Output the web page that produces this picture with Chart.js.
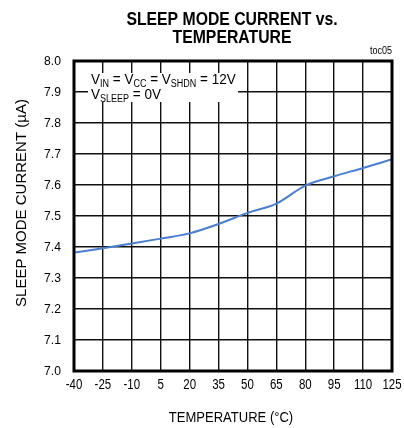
<!DOCTYPE html>
<html>
<head>
<meta charset="utf-8">
<script src="https://cdn.jsdelivr.net/npm/chart.js@4.4.1/dist/chart.umd.min.js"></script>
<style>
  html, body { margin: 0; padding: 0; background: #fff; }
  #wrap { position: absolute; left: 0; top: 0; width: 404px; height: 428px; }
</style>
</head>
<body>
<div id="wrap"><canvas id="chart" width="404" height="428"></canvas></div>
<script>
// data
const temps = [-40, -25, -10, 5, 20, 35, 50, 65, 80, 95, 110, 125];
const current = [7.382, 7.396, 7.411, 7.427, 7.444, 7.474, 7.51, 7.54, 7.598, 7.628, 7.655, 7.683];
const xTicks = [-40, -25, -10, 5, 20, 35, 50, 65, 80, 95, 110, 125];
const yTicks = [7.0, 7.1, 7.2, 7.3, 7.4, 7.5, 7.6, 7.7, 7.8, 7.9, 8.0];

const FONT = "'Liberation Sans', Arial, sans-serif";

// draws text squeezed sideways (the original uses a narrow face)
function txt(ctx, s, x, y, size, sx, align, base, bold) {
  ctx.save();
  ctx.translate(x, y);
  ctx.scale(sx, 1);
  ctx.font = (bold ? "bold " : "") + size + "px " + FONT;
  ctx.textAlign = align;
  ctx.textBaseline = base || "alphabetic";
  ctx.fillText(s, 0, 0);
  ctx.restore();
}

// all labels, the condition box and the heavy frame
const extras = {
  id: "extras",
  afterDraw(chart) {
    const ctx = chart.ctx;
    const a = chart.chartArea;
    const xs = chart.scales.x;
    const ys = chart.scales.y;
    ctx.save();
    ctx.fillStyle = "#000";

    // title
    txt(ctx, "SLEEP MODE CURRENT vs.", 232, 25, 19, 0.83, "center", "alphabetic", true);
    txt(ctx, "TEMPERATURE", 232, 43, 19, 0.83, "center", "alphabetic", true);
    txt(ctx, "toc05", 392, 54, 10, 0.9, "right");

    // tick labels
    xTicks.forEach(function (v) {
      txt(ctx, String(v), xs.getPixelForValue(v), 389, 14, 0.82, "center");
    });
    yTicks.forEach(function (v) {
      txt(ctx, v.toFixed(1), 61, ys.getPixelForValue(v), 13.5, 0.9, "right", "middle");
    });

    // axis titles
    txt(ctx, "TEMPERATURE (°C)", 231, 422, 14, 0.93, "center");
    ctx.save();
    ctx.translate(26, 203);
    ctx.rotate(-Math.PI / 2);
    txt(ctx, "SLEEP MODE CURRENT (µA)", 0, 0, 15, 1, "center");
    ctx.restore();

    // condition box
    ctx.fillStyle = "#fff";
    ctx.fillRect(88, 73, 150, 29);
    ctx.fillStyle = "#000";
    function sub(parts, x, y) {
      parts.forEach(function (p) {
        const size = p[1] ? 10 : 15;
        txt(ctx, p[0], x, y + (p[1] ? 3 : 0), size, 0.9, "left");
        ctx.font = size + "px " + FONT;
        x += ctx.measureText(p[0]).width * 0.9;
      });
    }
    sub([["V", 0], ["IN", 1], [" = V", 0], ["CC", 1], [" = V", 0], ["SHDN", 1], [" = 12V", 0]], 91, 84);
    sub([["V", 0], ["SLEEP", 1], [" = 0V", 0]], 91, 99);

    // frame
    ctx.strokeStyle = "#000";
    ctx.lineWidth = 3;
    ctx.strokeRect(a.left, a.top, a.right - a.left, a.bottom - a.top);
    ctx.restore();
  }
};

new Chart(document.getElementById("chart"), {
  type: "line",
  data: {
    datasets: [
      {
        data: temps.map((t, i) => ({ x: t, y: current[i] })),
        borderColor: "#4a7fd0",
        borderWidth: 2,
        pointRadius: 0,
        tension: 0.4,
        cubicInterpolationMode: "monotone",
        fill: false,
      },
    ],
  },
  options: {
    responsive: false,
    animation: false,
    layout: { padding: { left: 0, right: 12, top: 61, bottom: 0 } },
    plugins: {
      legend: { display: false },
      tooltip: { enabled: false },
      title: { display: false },
    },
    scales: {
      x: {
        type: "linear",
        min: -40,
        max: 125,
        afterBuildTicks: (s) => { s.ticks = xTicks.map((v) => ({ value: v })); },
        afterFit: (s) => { s.height = 57; },
        grid: { color: "#111", lineWidth: 1.4, drawTicks: false },
        border: { display: false },
        ticks: { display: false },
      },
      y: {
        min: 7.0,
        max: 8.0,
        afterBuildTicks: (s) => { s.ticks = yTicks.map((v) => ({ value: v })); },
        afterFit: (s) => { s.width = 74; },
        grid: { color: "#111", lineWidth: 1.4, drawTicks: false },
        border: { display: false },
        ticks: { display: false },
      },
    },
  },
  plugins: [extras],
});
</script>
</body>
</html>
